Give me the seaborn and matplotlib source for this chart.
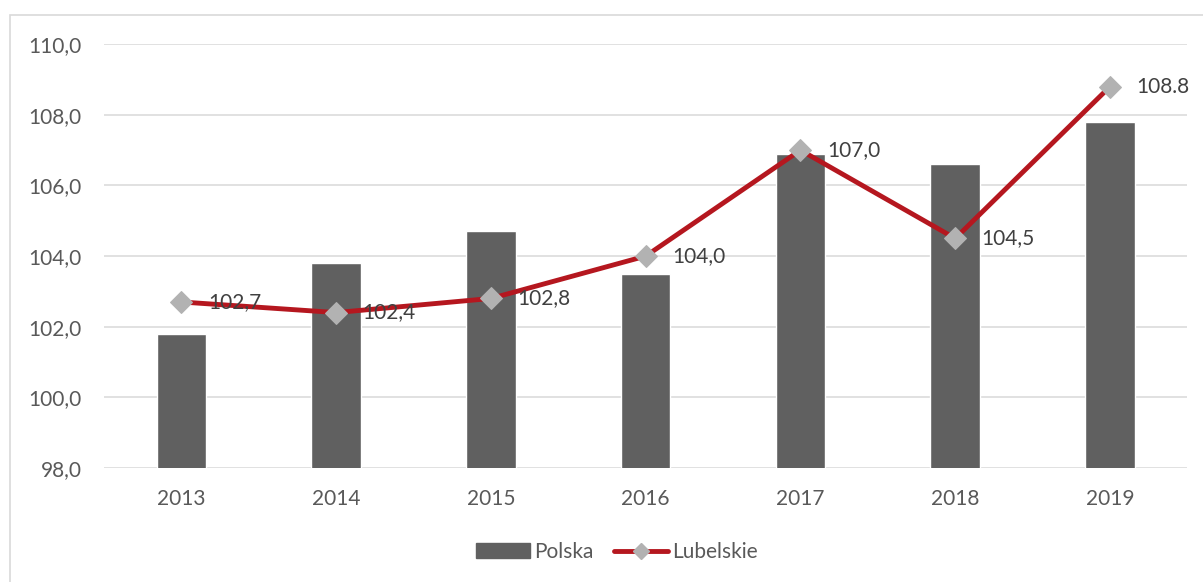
import matplotlib
matplotlib.use('Agg')
import matplotlib.pyplot as plt
from matplotlib.patches import Rectangle, Patch
from matplotlib.lines import Line2D
import seaborn as sns
import pandas as pd

years = ['2013', '2014', '2015', '2016', '2017', '2018', '2019']
polska = [101.8, 103.8, 104.7, 103.5, 106.9, 106.6, 107.8]
lubelskie = [102.7, 102.4, 102.8, 104.0, 107.0, 104.5, 108.8]
lub_labels = ['102,7', '102,4', '102,8', '104,0', '107,0', '104,5', '108.8']
yticks = [98, 100, 102, 104, 106, 108, 110]

df = pd.DataFrame({'rok': years, 'Polska': polska, 'Lubelskie': lubelskie})

sns.set_theme(style='white')
plt.rcParams['font.family'] = ['Lato', 'DejaVu Sans']

bar_col = '#606060'
line_col = '#B5171F'
mark_col = '#B2B2B2'
txt_col = '#595959'
fs = 15

fig = plt.figure(figsize=(12.03, 5.82), dpi=100)
ax = fig.add_axes([0.0865, 0.196, 0.9005, 0.728])

# ramka wykresu
fig.patches.append(Rectangle((10 / 1203, -0.1), 1.2, 1.1 - 15 / 582, transform=fig.transFigure,
                             fill=False, edgecolor='#D9D9D9', linewidth=1.2))

sns.barplot(data=df, x='rok', y='Polska', color=bar_col, saturation=1, width=0.32, ax=ax, zorder=2)
sns.lineplot(data=df, x='rok', y='Lubelskie', color=line_col, linewidth=3.5, marker='D',
             markersize=11, markerfacecolor=mark_col, markeredgecolor=mark_col, ax=ax, zorder=3)

for i, (v, t) in enumerate(zip(lubelskie, lub_labels)):
    ax.annotate(t, (i, v), xytext=(19, 0), textcoords='offset points', va='center', ha='left',
                fontsize=fs, color='#404040', zorder=4)

ax.set_ylim(98, 110)
ax.set_xlim(-0.5, 6.5)
ax.set_yticks(yticks)
ax.set_yticklabels([f'{v:.1f}'.replace('.', ',') for v in yticks])
ax.grid(axis='y', color='#D9D9D9', linewidth=1.1, zorder=0)
ax.set_axisbelow(True)
for s in ax.spines.values():
    s.set_visible(False)
ax.tick_params(axis='both', length=0, labelsize=fs, colors=txt_col)
ax.tick_params(axis='x', pad=15)
ax.tick_params(axis='y', pad=16)
ax.set_xlabel('')
ax.set_ylabel('')

handles = [Patch(facecolor=bar_col, edgecolor=bar_col),
           Line2D([], [], color=line_col, linewidth=3.5, marker='D', markersize=8,
                  markerfacecolor=mark_col, markeredgecolor=mark_col)]
leg = fig.legend(handles, ['Polska', 'Lubelskie'], loc='center', bbox_to_anchor=(617 / 1203, 1 - 552 / 582),
                 ncol=2, frameon=False, fontsize=fs, handlelength=2.6, handleheight=0.7,
                 columnspacing=1.0, handletextpad=0.2)
for t in leg.get_texts():
    t.set_color(txt_col)

fig.savefig('out.png', dpi=100)
